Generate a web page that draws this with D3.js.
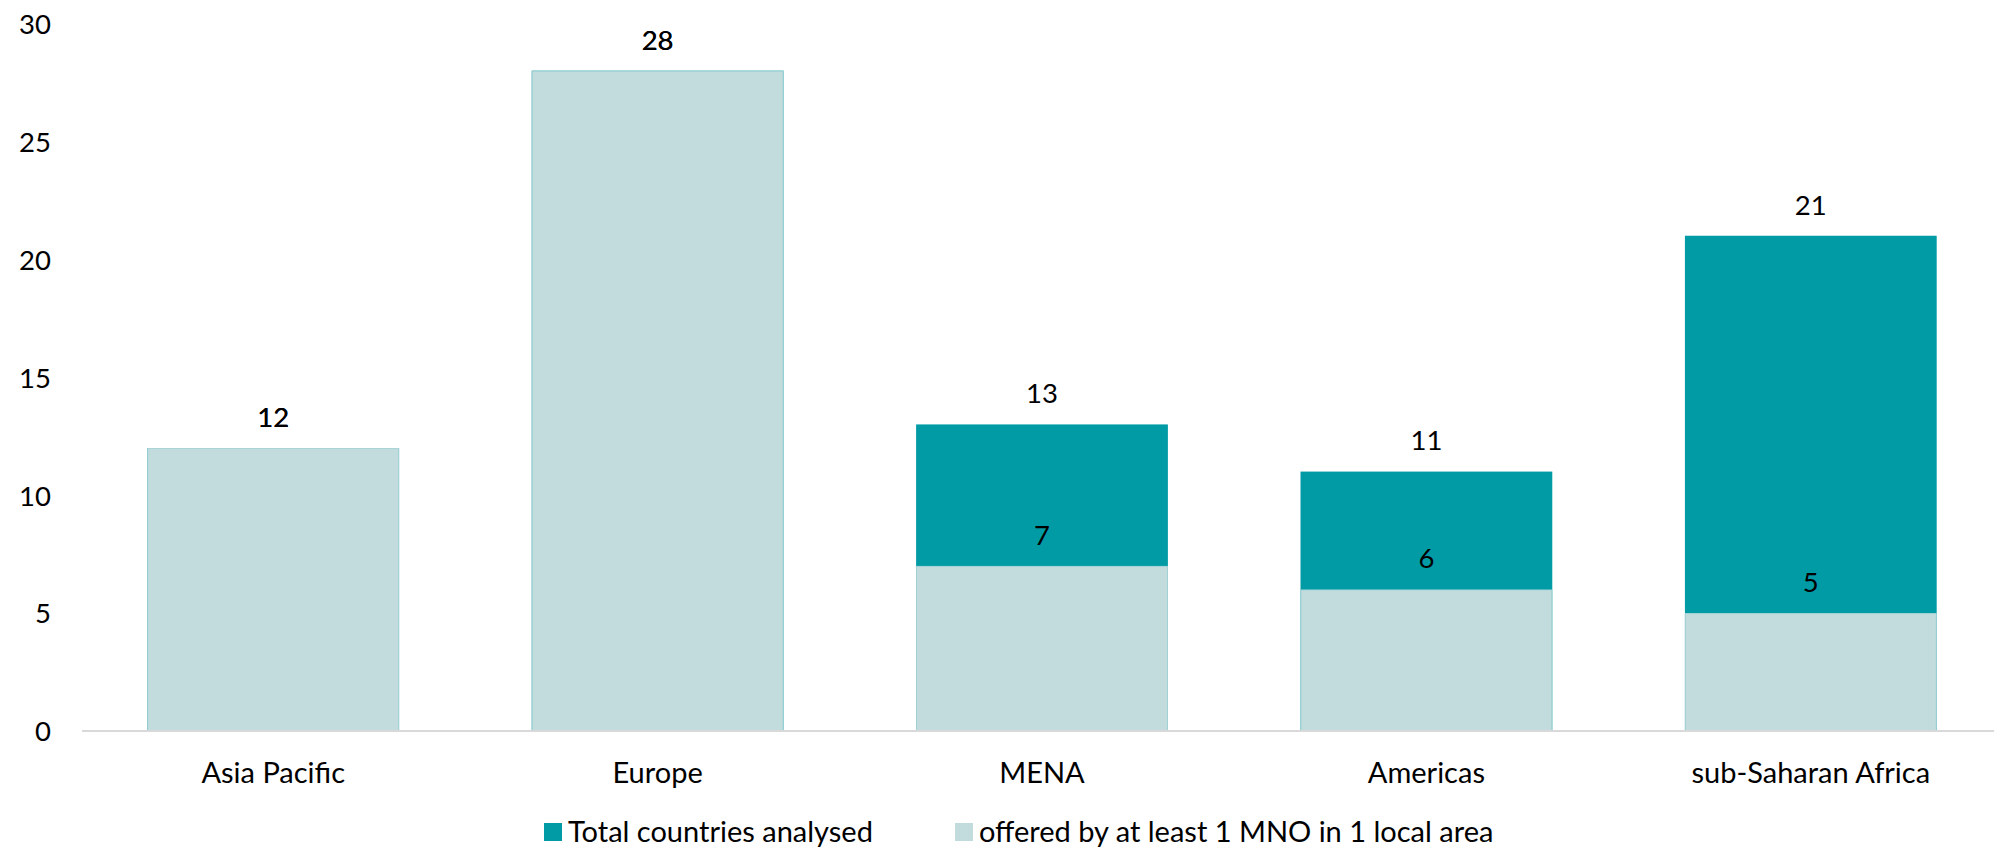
<!DOCTYPE html>
<html>
<head>
<meta charset="utf-8">
<script src="https://cdn.jsdelivr.net/npm/d3@7"></script>
<style>
  html, body { margin: 0; padding: 0; background: #fff; }
  svg { display: block; }
  text { font-family: Lato, "Open Sans", sans-serif; fill: #000; }
</style>
</head>
<body>
<svg id="chart" width="1994" height="849"></svg>
<script>
const categories = ["Asia Pacific", "Europe", "MENA", "Americas", "sub-Saharan Africa"];
const totalCountries = [12, 28, 13, 11, 21];
const offeredLocal = [12, 28, 7, 6, 5];
const yTicks = [0, 5, 10, 15, 20, 25, 30];
const seriesNames = ["Total countries analysed", "offered by at least 1 MNO in 1 local area"];
const seriesColors = ["#019ba6", "#c2dcdd"];

const svg = d3.select("#chart");
const x = d3.scaleBand().domain(categories).range([81, 2003]).paddingInner(0.345).paddingOuter(0.1725);
const y = d3.scaleLinear().domain([0, 30]).range([731, 23.5]);

// Y axis
const yAxis = svg.append("g").attr("transform", "translate(81,0)")
  .call(d3.axisLeft(y).tickValues(yTicks).tickSize(0).tickPadding(30));
yAxis.select(".domain").remove();
yAxis.selectAll("text").style("font-size", "27.5px").style("font-family", "Lato").attr("fill", "#000").attr("dy", "0.36em");

// Bars: total behind, offered on top
const data = categories.map((c, i) => ({ c, total: totalCountries[i], offered: offeredLocal[i] }));

svg.append("g").selectAll("rect").data(data).join("rect")
  .attr("x", d => x(d.c)).attr("width", x.bandwidth())
  .attr("y", d => y(d.total)).attr("height", d => y(0) - y(d.total))
  .attr("fill", seriesColors[0]);

svg.append("g").selectAll("rect").data(data).join("rect")
  .attr("x", d => x(d.c) + 0.5).attr("width", x.bandwidth() - 1)
  .attr("y", d => y(d.offered) + 0.5).attr("height", d => y(0) - y(d.offered) - 0.5)
  .attr("fill", seriesColors[1]).attr("stroke", "#aad4d7").attr("stroke-width", 1);

// X axis
const xAxis = svg.append("g").attr("transform", "translate(0,731)")
  .call(d3.axisBottom(x).tickSize(0).tickPadding(31));
xAxis.select(".domain").attr("stroke", "#d9d9d9").attr("stroke-width", 2).attr("d", "M82,0H1994");
xAxis.selectAll("text").style("font-size", "29px").style("font-family", "Lato").attr("fill", "#000");

// Value labels
svg.append("g").selectAll("text").data(data).join("text")
  .attr("x", d => x(d.c) + x.bandwidth() / 2).attr("y", d => y(d.total) - 31)
  .attr("dy", "0.36em").attr("text-anchor", "middle").style("font-size", "27.5px")
  .text(d => d.total);
svg.append("g").selectAll("text").data(data).join("text")
  .attr("x", d => x(d.c) + x.bandwidth() / 2).attr("y", d => y(d.offered) - 31)
  .attr("dy", "0.36em").attr("text-anchor", "middle").style("font-size", "27.5px")
  .text(d => d.offered);

// Legend
const legendX = [544, 955];
const lg = svg.append("g").selectAll("g").data(seriesNames).join("g")
  .attr("transform", (d, i) => `translate(${legendX[i]},823)`);
lg.append("rect").attr("width", 18).attr("height", 18).attr("fill", (d, i) => seriesColors[i]);
lg.append("text").attr("x", 24).attr("y", 9).attr("dy", "0.34em")
  .style("font-size", "29px").text(d => d);
</script>
</body>
</html>
